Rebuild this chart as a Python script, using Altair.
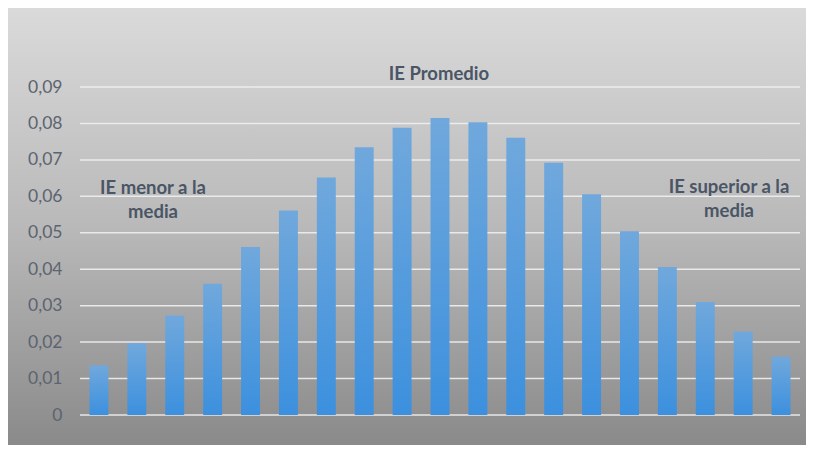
import altair as alt
import pandas as pd

categories = [str(i) for i in range(1, 20)]
values = [0.0136, 0.0197, 0.0273, 0.0360, 0.0461, 0.0561, 0.0652, 0.0735, 0.0788,
          0.0815, 0.0803, 0.0761, 0.0692, 0.0606, 0.0504, 0.0406, 0.0310, 0.0229, 0.0160]
tick_values = [0, 0.01, 0.02, 0.03, 0.04, 0.05, 0.06, 0.07, 0.08, 0.09]

ann_text = [["IE Promedio"], ["IE menor a la", "media"], ["IE superior a la", "media"]]
ann_x = [359, 73, 649]
ann_y = [0.0935, 0.0624, 0.0625]

W, H = 720, 328
PL, PT, PR, PB = 72, 79, 6, 30

df = pd.DataFrame({"cat": categories, "val": values})
ann = pd.DataFrame({"text": ann_text, "px": ann_x, "val": ann_y})
grid = pd.DataFrame({"val": tick_values})

bg = alt.Chart(pd.DataFrame({"a": [0]})).mark_rect(
    color=alt.LinearGradient(
        gradient="linear", x1=0, x2=0, y1=0, y2=1,
        stops=[alt.GradientStop(color="#dadada", offset=0),
               alt.GradientStop(color="#b9b9b9", offset=0.5),
               alt.GradientStop(color="#8a8a8a", offset=1)]),
).encode(
    x=alt.value(-PL), x2=alt.value(W + PR),
    y=alt.value(-PT), y2=alt.value(H + PB),
)

y_scale = alt.Scale(domain=[0, 0.09], nice=False)
y_axis = alt.Axis(values=tick_values, title=None, grid=False, zindex=1,
                  domain=False, ticks=False, labelPadding=18,
                  labelOverlap=False,
                  labelFont="Lato", labelFontSize=17.5, labelColor="#5c6470",
                  labelExpr="datum.value == 0 ? '0' : replace(format(datum.value, '.2f'), '.', ',')")

gridlines = alt.Chart(grid).mark_rule(color="#efefef", strokeWidth=1.5, opacity=0.9).encode(
    y=alt.Y("val:Q", scale=y_scale, axis=y_axis),
    x=alt.value(0), x2=alt.value(W),
)

bars = alt.Chart(df).mark_bar(
    color=alt.LinearGradient(
        gradient="linear", x1=0, x2=0, y1=0, y2=1,
        stops=[alt.GradientStop(color="#70a8dc", offset=0),
               alt.GradientStop(color="#3c90de", offset=1)]),
).encode(
    x=alt.X("cat:N", sort=categories,
            scale=alt.Scale(paddingInner=0.5, paddingOuter=0.25),
            axis=None),
    y=alt.Y("val:Q", scale=y_scale, axis=y_axis),
)

texts = alt.Chart(ann).mark_text(
    font="Lato", fontSize=18.5, fontWeight="bold", color="#4a5566",
    align="center", baseline="middle", lineHeight=24,
).encode(
    x=alt.X("px:Q", scale=None),
    y=alt.Y("val:Q", scale=y_scale, axis=y_axis),
    text="text",
)

chart = alt.layer(bg, gridlines, bars, texts).properties(
    width=W, height=H,
    autosize=alt.AutoSizeParams(type="none"),
    padding={"left": PL, "top": PT, "right": PR, "bottom": PB},
).configure_view(stroke=None).configure(background="white")

chart.save("out.html", embed_options={"renderer": "svg", "actions": False})
